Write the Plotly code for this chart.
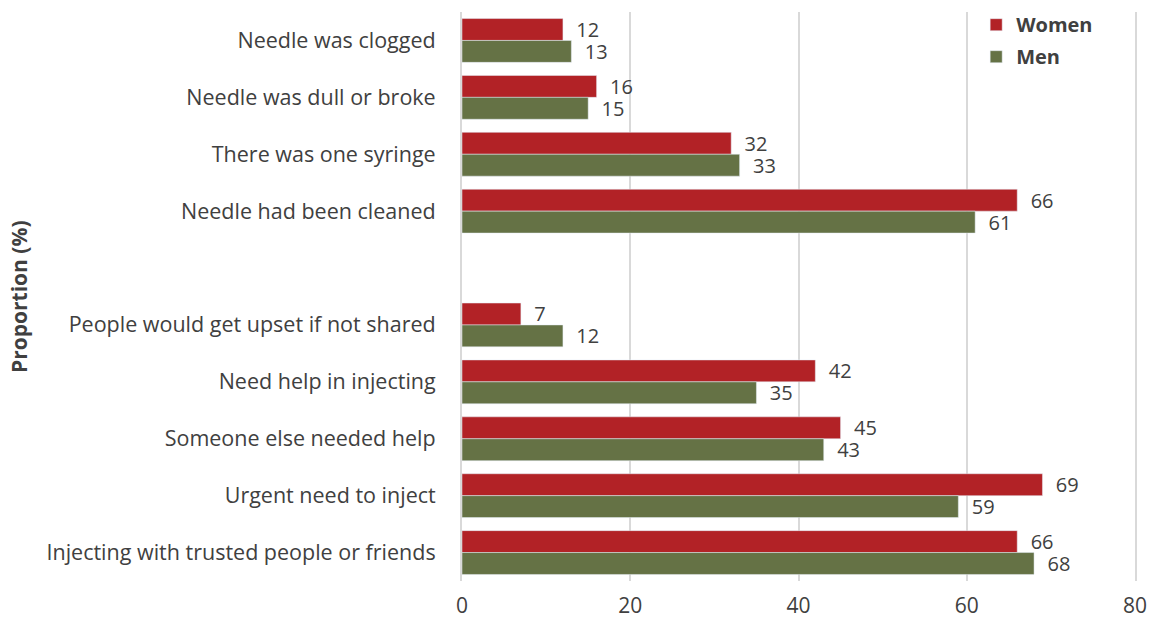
import plotly.graph_objects as go

categories = [
    "Needle was clogged",
    "Needle was dull or broke",
    "There was one syringe",
    "Needle had been cleaned",
    " ",
    "People would get upset if not shared",
    "Need help in injecting",
    "Someone else needed help",
    "Urgent need to inject",
    "Injecting with trusted people or friends",
]
women = [12, 16, 32, 66, None, 7, 42, 45, 69, 66]
men = [13, 15, 33, 61, None, 12, 35, 43, 59, 68]
x_ticks = [0, 20, 40, 60, 80]

FONT = "Open Sans"
GRAY = "#404040"


def labels(vals):
    return [("" if v is None else "  " + str(v)) for v in vals]


fig = go.Figure()
fig.add_trace(go.Bar(
    y=categories, x=women, name="Women", orientation="h",
    legendgroup="w",
    marker=dict(color="#B22226"),
    text=labels(women), textposition="outside", cliponaxis=False,
    constraintext="none",
    textfont=dict(family=FONT, size=20, color=GRAY),
))
fig.add_trace(go.Bar(
    y=categories, x=men, name="Men", orientation="h",
    legendgroup="m",
    marker=dict(color="#657245"),
    text=labels(men), textposition="outside", cliponaxis=False,
    constraintext="none",
    textfont=dict(family=FONT, size=20, color=GRAY),
))

fig.add_annotation(
    text="<b>Proportion (%)</b>", textangle=-90,
    xref="paper", yref="paper", x=-0.659, xanchor="center",
    y=0.5, showarrow=False,
    font=dict(family=FONT, size=21, color=GRAY),
)

fig.update_layout(
    width=1150, height=621,
    margin=dict(l=462, r=15, t=12, b=40, autoexpand=False),
    barmode="group", bargap=0.23, bargroupgap=0,
    plot_bgcolor="white", paper_bgcolor="white",
    font=dict(family=FONT, size=21, color=GRAY),
    showlegend=True,
    legend=dict(
        x=0.764, y=1.012, xanchor="left", yanchor="top",
        font=dict(family=FONT, size=20, color=GRAY, weight="bold"),
        bgcolor="rgba(0,0,0,0)", itemwidth=30,
        traceorder="grouped", tracegroupgap=3,
    ),
    xaxis=dict(
        range=[0, 80], tickvals=x_ticks, showgrid=True,
        gridcolor="#d9d9d9", gridwidth=2, zeroline=False,
        showline=False, automargin=False,
        tickfont=dict(family=FONT, size=21, color=GRAY),
        ticks="", ticklabelstandoff=10,
    ),
    yaxis=dict(
        categoryorder="array", categoryarray=categories,
        autorange="reversed", showgrid=False, ticks="",
        showline=True, mirror=True, linecolor="#d9d9d9", linewidth=2,
        automargin=False,
        tickfont=dict(family=FONT, size=21.5, color=GRAY),
        ticklabelstandoff=20,
    ),
)
fig.write_html(
    "out.html",
    config={"displayModeBar": False},
    post_script="document.body.style.margin='0';",
)
